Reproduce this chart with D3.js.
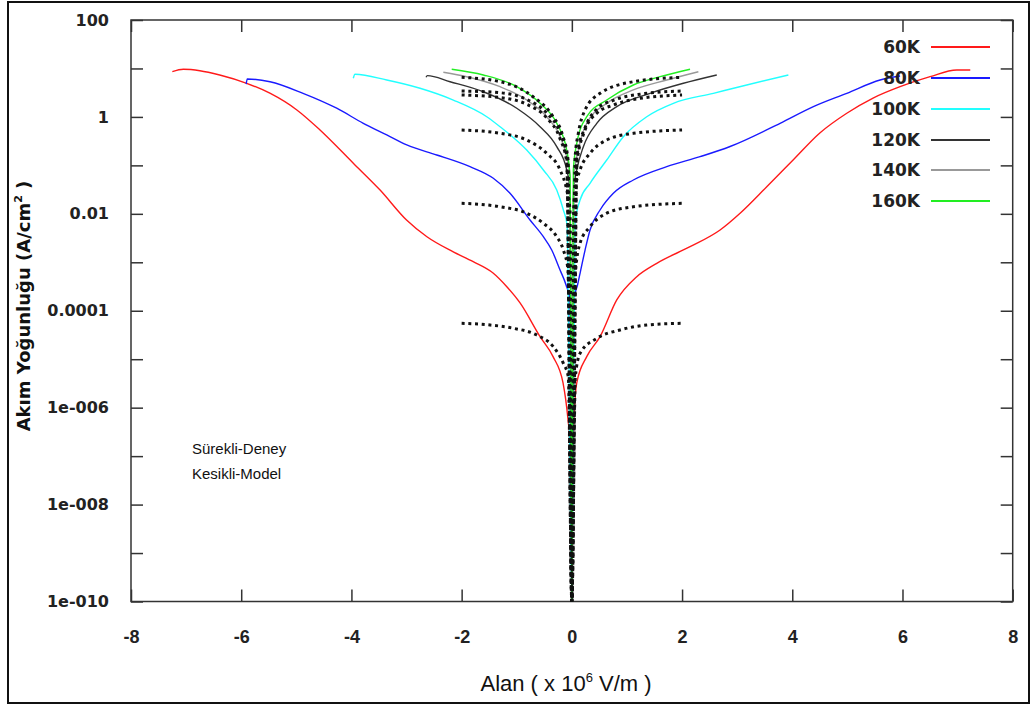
<!DOCTYPE html>
<html>
<head>
<meta charset="utf-8">
<script src="https://cdn.jsdelivr.net/npm/d3@7"></script>
<style>
  html, body { margin: 0; padding: 0; background: #fff; }
  svg { display: block; }
</style>
</head>
<body>
<svg id="chart" width="1033" height="706"></svg>
<script>
// ---------------- DATA ----------------
// x: electric field (x10^6 V/m), y: current density (A/cm^2)
const xTicks = [-8, -6, -4, -2, 0, 2, 4, 6, 8];
const xTickLabels = ["-8", "-6", "-4", "-2", "0", "2", "4", "6", "8"];
const yMinorTicks = [1e-10, 1e-9, 1e-8, 1e-7, 1e-6, 1e-5, 1e-4, 1e-3, 1e-2, 1e-1, 1, 10, 100];
const yLabelTicks = [1e-10, 1e-8, 1e-6, 1e-4, 1e-2, 1, 100];
const yTickLabels = ["1e-010", "1e-008", "1e-006", "0.0001", "0.01", "1", "100"];

const seriesNames = ["60K", "80K", "100K", "120K", "140K", "160K"];
const seriesColors = ["#ff1a1a", "#1a1aff", "#22ffff", "#333333", "#999999", "#22ee22"];

// Experimental (solid) curves: [field, current density]
const exp60 = [[-7.25,8.57],[-7.05,9.62],[-6.75,8.99],[-6.39,7.33],[-5.90,4.94],[-5.48,3.08],[-4.99,1.39],[-4.57,0.537],[-3.97,0.112],[-3.48,0.0310],[-3.00,0.00746],[-2.63,0.00337],[-2.16,0.00166],[-1.79,0.00103],[-1.43,6.01e-4],[-1.18,3.13e-4],[-0.94,1.45e-4],[-0.577,2.92e-5],[-0.341,1.13e-5],[-0.160,3.23e-6],[-0.069,5.56e-7],[-0.015,1e-7],[0,1e-10],[0.015,1e-7],[0.089,3.23e-6],[0.270,1.13e-5],[0.512,2.92e-5],[0.815,1.67e-4],[1.178,5.05e-4],[1.541,9.53e-4],[2.145,0.0021],[2.690,0.00465],[3.053,0.0103],[3.537,0.0363],[4.015,0.129],[4.500,0.466],[4.989,1.19],[5.466,2.45],[5.956,4.21],[6.501,6.76],[6.985,9.29],[7.23,9.29]];
const exp80 = [[-5.91,4.76],[-5.89,6.05],[-5.477,5.33],[-4.878,3.07],[-4.267,1.51],[-3.784,0.738],[-3.359,0.424],[-2.996,0.264],[-2.452,0.164],[-1.848,0.0940],[-1.425,0.0541],[-1.122,0.0265],[-0.759,0.00746],[-0.517,0.00337],[-0.365,0.00179],[-0.214,6.93e-4],[-0.105,3.40e-4],[-0.033,1.67e-4],[0,1e-10],[0.033,1.67e-4],[0.103,3.40e-4],[0.149,5.93e-4],[0.24,0.00179],[0.33,0.00465],[0.512,0.0120],[0.753,0.0265],[1.116,0.0499],[1.722,0.0940],[2.327,0.151],[2.871,0.245],[3.779,0.738],[4.383,1.63],[4.989,3.07],[5.593,5.78],[5.956,6.98]];
const exp100 = [[-3.966,6.27],[-3.935,7.57],[-3.359,5.78],[-2.755,3.90],[-2.151,2.23],[-1.544,1.01],[-1.303,0.628],[-0.819,0.207],[-0.517,0.0804],[-0.274,0.0310],[-0.154,0.0120],[-0.087,0.00589],[0,1e-10],[0.058,0.00646],[0.149,0.0193],[0.33,0.0427],[0.633,0.129],[0.935,0.391],[1.359,1.01],[1.842,1.91],[2.568,3.07],[3.174,4.56],[3.929,7.33]];
const exp120 = [[-2.646,6.58],[-2.622,7.10],[-2.21,5.33],[-1.606,3.31],[-1.0,1.51],[-0.577,0.628],[-0.274,0.243],[-0.093,0.0804],[-0.033,0.0310],[0,1e-10],[0.03,0.0310],[0.089,0.0804],[0.209,0.243],[0.452,0.738],[0.815,1.63],[1.419,3.07],[2.024,4.94],[2.63,7.33]];
const exp140 = [[-2.332,8.34],[-1.907,6.76],[-1.303,4.21],[-0.819,2.23],[-0.456,1.01],[-0.214,0.391],[-0.093,0.151],[-0.033,0.0631],[0,1e-10],[0.04,0.0631],[0.118,0.207],[0.27,0.738],[0.633,1.91],[1.116,3.60],[1.722,5.78],[2.296,8.57]];
const exp160 = [[-2.18,9.62],[-1.606,7.33],[-1.0,4.21],[-0.577,1.91],[-0.274,0.738],[-0.093,0.207],[-0.033,0.0583],[0,1e-10],[0.027,0.0804],[0.089,0.285],[0.27,1.01],[0.633,2.23],[1.116,4.56],[1.601,6.76],[2.145,9.62]];

// Model (dotted) curves
const model60 = [[-2.0,5.51e-5],[-1.485,5.08e-5],[-1.062,4.35e-5],[-0.637,3.16e-5],[-0.336,1.81e-5],[-0.154,8.22e-6],[-0.064,4.36e-6],[0,1e-10],[0.064,4.36e-6],[0.149,1.32e-5],[0.452,2.70e-5],[0.875,4.01e-5],[1.359,5.08e-5],[2.0,5.51e-5]];
const model80 = [[-2.0,0.0165],[-1.303,0.0140],[-0.819,0.0103],[-0.517,0.00638],[-0.274,0.00337],[-0.154,0.00179],[-0.069,6.93e-4],[0,1e-10],[0.069,6.93e-4],[0.149,0.00247],[0.33,0.00543],[0.633,0.0103],[1.116,0.0140],[2.0,0.0165]];
const model100 = [[-2.0,0.537],[-1.303,0.459],[-0.819,0.334],[-0.456,0.177],[-0.214,0.0804],[-0.093,0.0310],[-0.033,0.0120],[0,1e-10],[0.033,0.0120],[0.058,0.0310],[0.149,0.0804],[0.33,0.177],[0.633,0.334],[1.116,0.459],[2.0,0.537]];
const model120 = [[-2.0,2.83],[-1.303,2.51],[-0.819,1.82],[-0.456,0.955],[-0.214,0.355],[-0.093,0.117],[0,1e-10],[0.093,0.117],[0.24,0.537],[0.452,1.19],[0.753,1.76],[1.238,2.42],[2.0,2.83]];
const model140 = [[-2.0,3.43],[-1.303,3.16],[-0.819,2.29],[-0.456,1.20],[-0.214,0.468],[-0.093,0.158],[0,1e-10],[0.093,0.158],[0.24,0.60],[0.452,1.45],[0.753,2.20],[1.238,2.95],[2.0,3.43]];
const model160 = [[-2.0,6.58],[-1.303,5.33],[-0.704,2.61],[-0.341,1.01],[-0.160,0.391],[-0.069,0.129],[0,1e-10],[0.06,0.15],[0.118,0.459],[0.24,1.39],[0.512,3.07],[1.116,5.33],[2.0,6.58]];

const noteLines = ["Sürekli-Deney", "Kesikli-Model"];

// ---------------- DRAW ----------------
const svg = d3.select("#chart");
const W = 1033, H = 706;
const plot = { left: 131, right: 1012.7, top: 20, bottom: 601.5 };

svg.append("rect").attr("width", W).attr("height", H).attr("fill", "#fff");
// outer frame
svg.append("rect").attr("x", 8).attr("y", 2).attr("width", 1021).attr("height", 701)
  .attr("fill", "none").attr("stroke", "#111").attr("stroke-width", 2);

const x = d3.scaleLinear().domain([-8, 8]).range([plot.left, plot.right]);
const y = d3.scaleLog().domain([1e-10, 100]).range([plot.bottom, plot.top]);

svg.append("clipPath").attr("id", "clip").append("rect")
  .attr("x", plot.left).attr("y", plot.top)
  .attr("width", plot.right - plot.left).attr("height", plot.bottom - plot.top);

const axisColor = "#333";
const tickFont = "'DejaVu Sans', sans-serif";

// bottom axis
const gx = svg.append("g").attr("transform", `translate(0,${plot.bottom})`)
  .call(d3.axisBottom(x).tickValues(xTicks).tickSizeInner(-12).tickSizeOuter(0).tickPadding(29)
    .tickFormat((d, i) => xTickLabels[i]));
gx.select(".domain").remove();
gx.selectAll(".tick line").attr("stroke", axisColor).attr("stroke-width", 1.5);
gx.selectAll("text").attr("font-family", "'Liberation Sans Narrow', 'Liberation Sans', sans-serif")
  .attr("font-weight", "bold").attr("font-size", 18).attr("fill", "#222");

// top axis
const gxt = svg.append("g").attr("transform", `translate(0,${plot.top})`)
  .call(d3.axisTop(x).tickValues(xTicks).tickSizeInner(-12).tickSizeOuter(0).tickFormat(""));
gxt.select(".domain").remove();
gxt.selectAll(".tick line").attr("stroke", axisColor).attr("stroke-width", 1.5);

// left axis: ticks at every decade
const gyMinor = svg.append("g").attr("transform", `translate(${plot.left},0)`)
  .call(d3.axisLeft(y).tickValues(yMinorTicks).tickSizeInner(-12).tickSizeOuter(0).tickFormat(""));
gyMinor.select(".domain").remove();
gyMinor.selectAll(".tick line").attr("stroke", axisColor).attr("stroke-width", 1.5);
// left axis labels
const gy = svg.append("g").attr("transform", `translate(${plot.left},0)`)
  .call(d3.axisLeft(y).tickValues(yLabelTicks).tickSize(0).tickPadding(22)
    .tickFormat((d, i) => yTickLabels[i]));
gy.select(".domain").remove();
gy.selectAll("text").attr("font-family", tickFont).attr("font-weight", "bold")
  .attr("font-size", 16).attr("fill", "#222");

// right axis ticks
const gyr = svg.append("g").attr("transform", `translate(${plot.right},0)`)
  .call(d3.axisRight(y).tickValues(yMinorTicks).tickSizeInner(-12).tickSizeOuter(0).tickFormat(""));
gyr.select(".domain").remove();
gyr.selectAll(".tick line").attr("stroke", axisColor).attr("stroke-width", 1.5);

// plot frame
svg.append("rect").attr("x", plot.left).attr("y", plot.top)
  .attr("width", plot.right - plot.left).attr("height", plot.bottom - plot.top)
  .attr("fill", "none").attr("stroke", axisColor).attr("stroke-width", 1.5);

// lines
const line = d3.line()
  .x(d => x(d[0]))
  .y(d => y(Math.max(d[1], 1e-10)))
  .curve(d3.curveMonotoneX);

const expSeries = [exp60, exp80, exp100, exp120, exp140, exp160];
const modelSeries = [model60, model80, model100, model120, model140, model160];

const gLines = svg.append("g").attr("clip-path", "url(#clip)");
expSeries.forEach((s, i) => {
  gLines.append("path").datum(s).attr("d", line)
    .attr("fill", "none").attr("stroke", seriesColors[i]).attr("stroke-width", 1.4)
    .attr("stroke-linejoin", "round");
});
modelSeries.forEach((s, i) => {
  gLines.append("path").datum(s).attr("d", line)
    .attr("fill", "none").attr("stroke", "#111").attr("stroke-width", 3)
    .attr("stroke-dasharray", "3,3.7");
});

// legend
const legendY = [47, 78, 109, 140, 170, 201];
const lg = svg.append("g");
seriesNames.forEach((name, i) => {
  lg.append("text").attr("x", 920).attr("y", legendY[i]).attr("dy", "0.36em")
    .attr("text-anchor", "end").attr("font-family", tickFont).attr("font-weight", "bold")
    .attr("font-size", 17).attr("fill", "#222").text(name);
  lg.append("line").attr("x1", 931).attr("x2", 990).attr("y1", legendY[i]).attr("y2", legendY[i])
    .attr("stroke", seriesColors[i]).attr("stroke-width", 2);
});

// notes
noteLines.forEach((t, i) => {
  svg.append("text").attr("x", 192).attr("y", 454 + i * 25)
    .attr("font-family", "'Liberation Sans', Arial, sans-serif").attr("font-size", 15)
    .attr("fill", "#111").text(t);
});

// x-axis title
const xt = svg.append("text").attr("x", 566).attr("y", 691).attr("text-anchor", "middle")
  .attr("font-family", "'Liberation Sans Narrow', 'Liberation Sans', sans-serif")
  .attr("font-size", 22).attr("fill", "#111");
xt.append("tspan").text("Alan ( x 10");
xt.append("tspan").attr("dy", -9).attr("font-size", 13).text("6");
xt.append("tspan").attr("dy", 9).text(" V/m )");

// y-axis title
const yt = svg.append("text").attr("transform", "translate(30,306) rotate(-90)")
  .attr("text-anchor", "middle").attr("font-family", tickFont).attr("font-weight", "bold")
  .attr("font-size", 18).attr("fill", "#111");
yt.append("tspan").text("Akım Yoğunluğu (A/cm");
yt.append("tspan").attr("dy", -8).attr("font-size", 11).text("2");
yt.append("tspan").attr("dy", 8).text(" )");
</script>
</body>
</html>
